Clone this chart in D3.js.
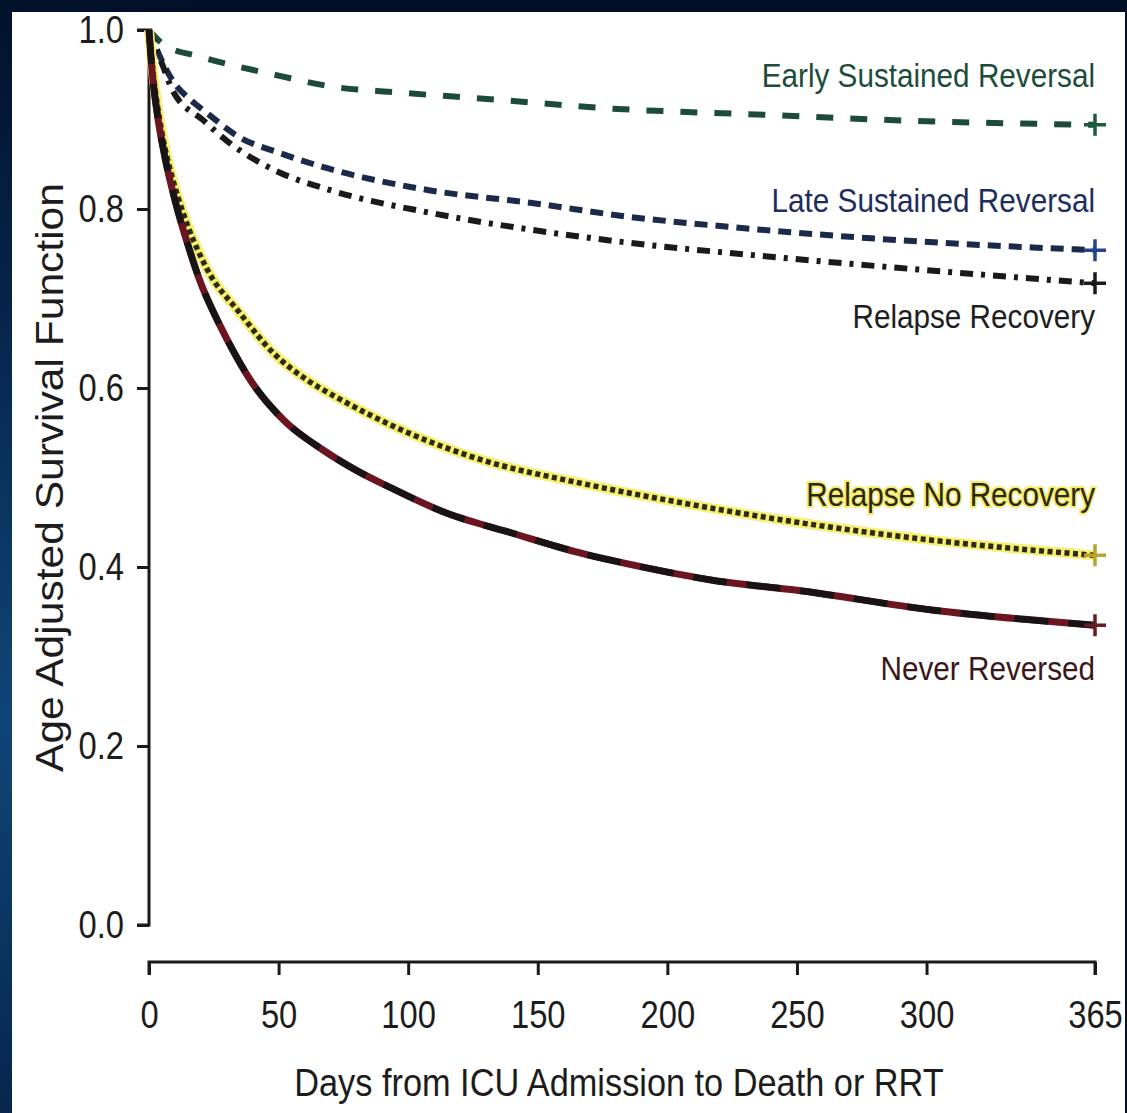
<!DOCTYPE html>
<html>
<head>
<meta charset="utf-8">
<script src="https://cdn.jsdelivr.net/npm/d3@7"></script>
<style>
  html, body { margin: 0; padding: 0; background: #020f26; }
  svg { display: block; }
  text { font-family: 'Liberation Sans', Arial, Helvetica, sans-serif; }
</style>
</head>
<body>
<svg id="chart" width="1127" height="1113"></svg>
<script>
// Age-adjusted Kaplan–Meier survival estimates, [day, survival]
const earlySustained = [[0,1],[6,0.983],[20,0.970],[50,0.949],[70,0.937],[97,0.930],[135,0.922],[174,0.913],[240,0.905],[290,0.899],[365,0.894]];
const lateSustained = [[0,1],[3.5,0.975],[9,0.944],[16,0.922],[22,0.908],[35,0.880],[50,0.863],[67,0.847],[108,0.821],[147,0.807],[186,0.791],[224,0.780],[290,0.765],[365,0.754]];
const relapseRecovery = [[0,1],[6,0.955],[9,0.933],[21,0.899],[31,0.874],[48,0.844],[70,0.821],[108,0.796],[147,0.777],[186,0.762],[231,0.749],[290,0.734],[365,0.717]];
const relapseNoRecovery = [[0,1],[1.5,0.955],[5,0.885],[9,0.835],[13,0.797],[22,0.735],[35,0.684],[48,0.639],[61,0.609],[74,0.587],[93,0.559],[128,0.520],[166,0.494],[205,0.472],[250,0.450],[302,0.430],[365,0.413]];
const neverReversed = [[0,1],[1,0.96],[3,0.91],[6,0.86],[10,0.81],[15,0.76],[20,0.717],[25,0.684],[30,0.655],[40,0.605],[52,0.564],[67,0.531],[80,0.508],[93,0.489],[115,0.460],[140,0.438],[166,0.416],[192,0.399],[218,0.385],[250,0.374],[302,0.352],[365,0.335]];

const groupNames = ["Early Sustained Reversal", "Late Sustained Reversal", "Relapse Recovery", "Relapse No Recovery", "Never Reversed"];
const xTicks = [0, 50, 100, 150, 200, 250, 300, 365];
const yTicks = [0.0, 0.2, 0.4, 0.6, 0.8, 1.0];
const xTitle = "Days from ICU Admission to Death or RRT";
const yTitle = "Age Adjusted Survival Function";

const svg = d3.select("#chart");
const W = 1127, H = 1113;
const NARROW = 0.84;   // horizontal squeeze for the condensed lettering

// backdrop with a soft blue glow on the left
const defs = svg.append("defs");
const glow = defs.append("radialGradient").attr("id", "bg")
  .attr("cx", 0).attr("cy", 720).attr("r", 760).attr("gradientUnits", "userSpaceOnUse");
glow.append("stop").attr("offset", 0).attr("stop-color", "#0f4577");
glow.append("stop").attr("offset", 0.55).attr("stop-color", "#06244a");
glow.append("stop").attr("offset", 1).attr("stop-color", "#020f26");
svg.append("rect").attr("width", W).attr("height", H).attr("fill", "url(#bg)");
svg.append("rect").attr("x", 12).attr("y", 12).attr("width", 1113).attr("height", H - 12).attr("fill", "#ffffff");

const x = d3.scaleLinear().domain([0, 365]).range([149, 1095]);
const y = d3.scaleLinear().domain([0, 1]).range([925, 30]);

// y axis
const yAxis = svg.append("g").attr("transform", "translate(149,0)")
  .call(d3.axisLeft(y).tickValues(yTicks).tickFormat(d3.format(".1f")).tickSize(12).tickPadding(13));
// x axis (offset below the plot)
const xAxis = svg.append("g").attr("transform", "translate(0,962)")
  .call(d3.axisBottom(x).tickValues(xTicks).tickFormat(d3.format("d")).tickSize(13).tickPadding(25));
[yAxis, xAxis].forEach(a => {
  a.select(".domain").attr("stroke", "#1a1a1a").attr("stroke-width", 3);
  a.selectAll(".tick line").attr("stroke", "#1a1a1a").attr("stroke-width", 3);
  a.selectAll(".tick text").attr("fill", "#1c1c1c").style("font-size", "39px");
});
yAxis.selectAll(".tick text").attr("x", -25 / NARROW).attr("transform", `scale(${NARROW},1)`);
xAxis.selectAll(".tick text").attr("transform", `scale(${NARROW},1)`);
yAxis.select(".domain").attr("d", `M-12,${y(0)}H0V${y(1)}H-12`);
xAxis.select(".domain").attr("d", `M${x(0)},13V0H${x(365)}V13`);

// axis titles
svg.append("text").attr("transform", `translate(619,1096) scale(0.88,1)`).attr("text-anchor", "middle")
  .attr("fill", "#1c1c1c").style("font-size", "39px").text(xTitle);
svg.append("text").attr("transform", `translate(63,${y(0.5)}) rotate(-90) scale(1.12,1)`).attr("text-anchor", "middle")
  .attr("fill", "#1c1c1c").style("font-size", "38px").text(yTitle);

const line = d3.line().x(d => x(d[0])).y(d => y(d[1])).curve(d3.curveMonotoneX);
const plot = svg.append("g").attr("fill", "none");

// Early sustained reversal: long green dashes
plot.append("path").datum(earlySustained).attr("d", line)
  .attr("stroke", "#1d4b3a").attr("stroke-width", 6).attr("stroke-dasharray", "17,17");
// Late sustained reversal: short navy dashes
plot.append("path").datum(lateSustained).attr("d", line)
  .attr("stroke", "#1b2a4a").attr("stroke-width", 6).attr("stroke-dasharray", "13,8");
// Relapse recovery: dash-dot
plot.append("path").datum(relapseRecovery).attr("d", line)
  .attr("stroke", "#1a1a1a").attr("stroke-width", 6).attr("stroke-dasharray", "13,8,4,8");
// Relapse no recovery: dark dots over a yellow band
plot.append("path").datum(relapseNoRecovery).attr("d", line)
  .attr("stroke", "#f6ef72").attr("stroke-width", 10);
plot.append("path").datum(relapseNoRecovery).attr("d", line)
  .attr("stroke", "#2b2a12").attr("stroke-width", 5.5).attr("stroke-dasharray", "5,3.5");
// Never reversed: solid black over dark red
plot.append("path").datum(neverReversed).attr("d", line)
  .attr("stroke", "#6a1520").attr("stroke-width", 7);
plot.append("path").datum(neverReversed).attr("d", line)
  .attr("stroke", "#161414").attr("stroke-width", 6.5).attr("stroke-dasharray", "34,20");

// censoring marks at day 365
const ends = [
  { data: earlySustained, color: "#1f5a3e" },
  { data: lateSustained, color: "#23438c" },
  { data: relapseRecovery, color: "#1a1a1a" },
  { data: relapseNoRecovery, color: "#b9a52c" },
  { data: neverReversed, color: "#6a1a22" }
];
ends.forEach(e => {
  const last = e.data[e.data.length - 1];
  const cx = x(last[0]), cy = y(last[1]);
  svg.append("path").attr("d", `M${cx - 11},${cy}H${cx + 11}M${cx},${cy - 11}V${cy + 11}`)
    .attr("stroke", e.color).attr("stroke-width", 3.5).attr("fill", "none");
});

// group labels, right-aligned at day 365
const labels = [
  { text: groupNames[0], yPos: 87, color: "#1e4c3b" },
  { text: groupNames[1], yPos: 212, color: "#1d2d5e" },
  { text: groupNames[2], yPos: 328, color: "#1e1e1e" },
  { text: groupNames[3], yPos: 506, color: "#2a2812", halo: "#f4ec6a" },
  { text: groupNames[4], yPos: 680, color: "#3a171b" }
];
labels.forEach(l => {
  const t = svg.append("text").attr("transform", `translate(1095,${l.yPos}) scale(0.9,1)`)
    .attr("text-anchor", "end").attr("fill", l.color).style("font-size", "33px").text(l.text);
  if (l.halo) t.attr("stroke", l.halo).attr("stroke-width", 4).attr("paint-order", "stroke");
});
</script>
</body>
</html>
